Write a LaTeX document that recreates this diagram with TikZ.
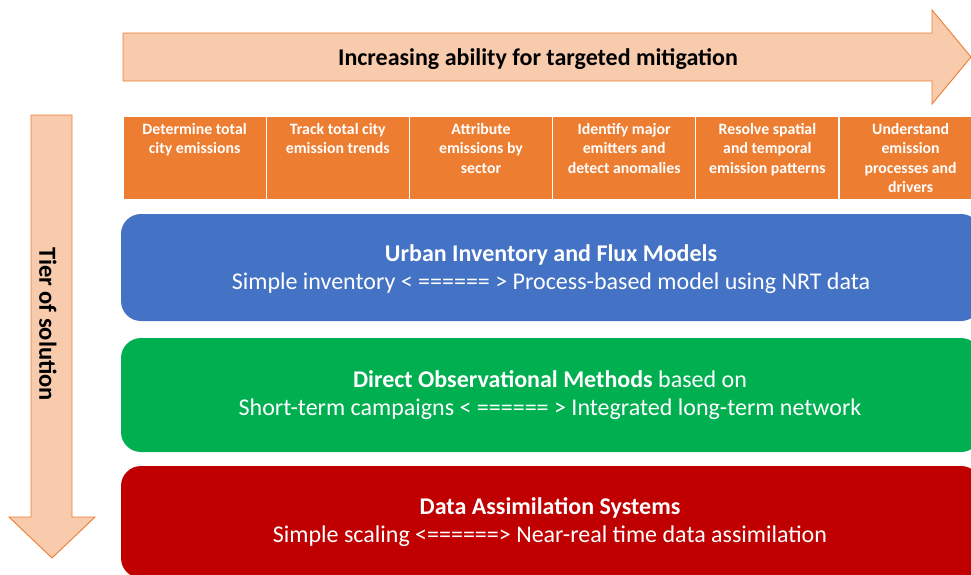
\documentclass[tikz,border=0pt]{standalone}
\usepackage{fontspec}
\setmainfont{Carlito}
\usetikzlibrary{positioning,calc}
\definecolor{fpeach}{HTML}{F8CBAD}
\definecolor{forange}{HTML}{ED7D31}
\definecolor{fblue}{HTML}{4472C4}
\definecolor{fgreen}{HTML}{00B050}
\definecolor{fred}{HTML}{C00000}
\tikzset{
  bigarrow/.style = {draw=forange, fill=fpeach, line width=0.9pt},
  goalcell/.style = {draw=white, fill=forange, line width=1.2pt},
  goaltext/.style = {text=white, align=center, inner sep=0pt, anchor=north,
                     font=\bfseries\fontsize{15.8}{19.5}\selectfont},
  tierbox/.style  = {fill=#1, rounded corners=20pt},
  tiertext/.style = {text=white, align=center, inner sep=0pt,
                     font=\fontsize{24}{28}\selectfont},
}

\begin{document}
\begin{tikzpicture}[x=1pt,y=-1pt]
\useasboundingbox (0,0) rectangle (971,574);
\clip (0,0) rectangle (971,574);
% horizontal arrow
\draw[bigarrow] (123,33) -- (932,33) -- (932,10) -- (971,57) -- (932,104)
  -- (932,81) -- (123,81) -- cycle;
\node[font=\bfseries\fontsize{24}{28}\selectfont] (goal) at (538,59)
  {Increasing ability for targeted mitigation};
% vertical arrow
\draw[bigarrow] (31,115) -- (72,115) -- (72,517) -- (95,517) -- (52,558)
  -- (9,517) -- (31,517) -- cycle;
\node[rotate=-90,font=\bfseries\fontsize{24.5}{28}\selectfont] (tier) at (48,324)
  {Tier of solution};
% objectives
\foreach \i/\txt in {0/{Determine total\\city emissions},
                     1/{Track total city\\emission trends},
                     2/{Attribute\\emissions by\\sector},
                     3/{Identify major\\emitters and\\detect anomalies},
                     4/{Resolve spatial\\and temporal\\emission patterns},
                     5/{Understand\\emission\\processes and\\drivers}} {
  \draw[goalcell] (123+143.2*\i,116) rectangle ++(143.2,84);
  \node[goaltext] (obj\i) at (194.6+143.2*\i,123) {\txt};
}
% tiers
\fill[tierbox=fblue]  (121,214) rectangle (981,321);
\fill[tierbox=fgreen] (121,338) rectangle (981,452);
\fill[tierbox=fred]   (121,466) rectangle (981,578);
\node[tiertext] (inv) at (551,269)
  {\textbf{Urban Inventory and Flux Models}\\
   Simple inventory < ====== > Process-based model using NRT data};
\node[tiertext] (obs) at (550,395)
  {\textbf{Direct Observational Methods} based on\\
   Short-term campaigns < ====== > Integrated long-term network};
\node[tiertext] (das) at (550,522.5)
  {\textbf{Data Assimilation Systems}\\
   Simple scaling <======> Near-real time data assimilation};
\end{tikzpicture}
\end{document}
